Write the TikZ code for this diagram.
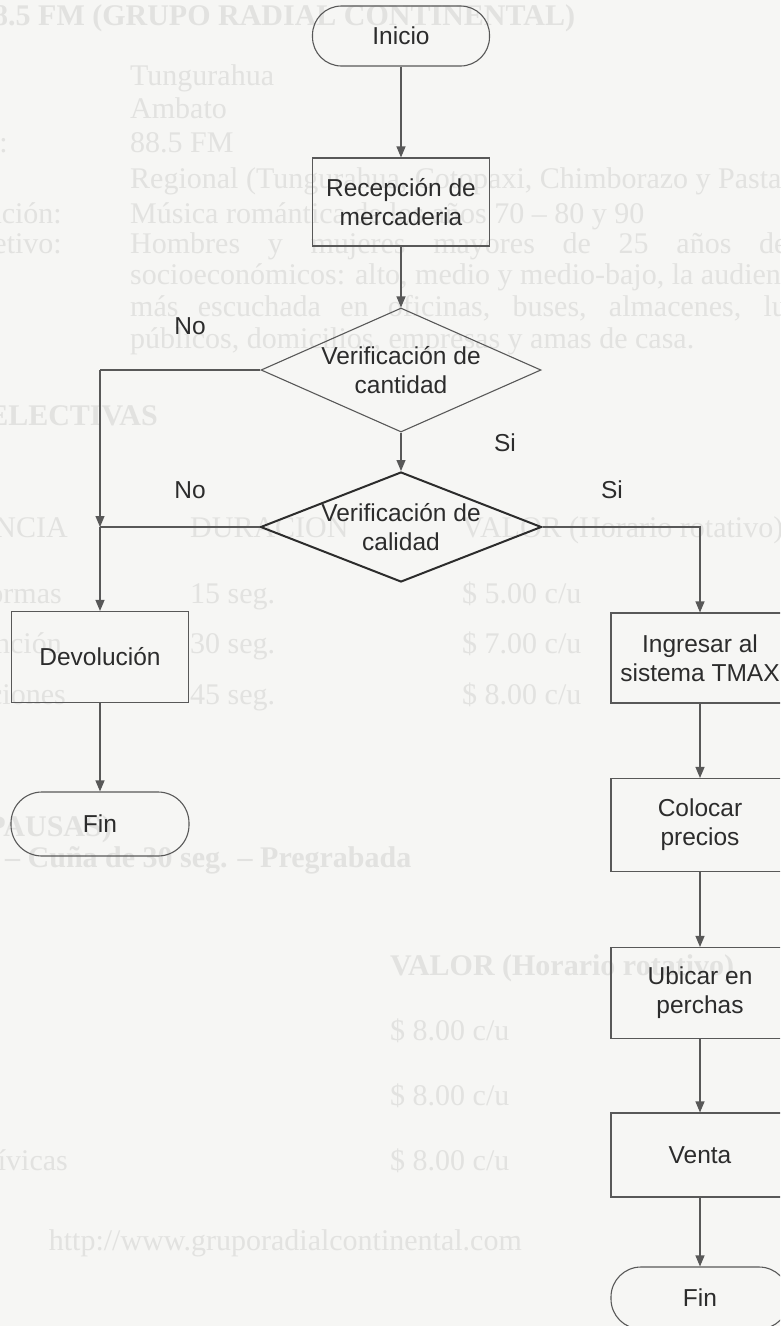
\documentclass[tikz,border=0pt]{standalone}
\usepackage{fontspec}
\setmainfont{Liberation Sans}
\newfontfamily\serifbg{Liberation Serif}
\usetikzlibrary{shapes.geometric,arrows.meta}
\definecolor{paper}{HTML}{F6F6F4}
\definecolor{ghost}{HTML}{E2E2E0}
\definecolor{ink}{HTML}{2C2C2C}
\definecolor{wire}{HTML}{585858}
\tikzset{
  term/.style={draw=wire, line width=1.1pt, rounded corners=29pt,
    minimum width=177pt, minimum height=60pt, text=ink},
  procbox/.style={draw=wire, line width=1.1pt, minimum width=177pt,
    align=center, text=ink, inner sep=0pt},
  decision/.style={draw=wire, diamond, inner sep=0pt, line width=1.1pt},
  dectext/.style={text=ink, align=center, inner sep=0pt},
  flow/.style={draw=wire, line width=1.1pt, -{Triangle[width=9pt,length=11pt]}},
  link/.style={draw=wire, line width=1.1pt},
  answer/.style={text=ink},
  ghostw/.style={text=ghost, inner sep=0pt, anchor=base west,
    font=\serifbg\fontsize{30}{34}\selectfont},
  ghoste/.style={ghostw, anchor=base east},
  ghostbw/.style={ghostw, font=\serifbg\bfseries\fontsize{30}{34}\selectfont},
  ghostbe/.style={ghostbw, anchor=base east}
}
\begin{document}
\begin{tikzpicture}[x=1pt, y=-1pt, font=\fontsize{24.5}{29}\selectfont]
\fill[paper] (0,0) rectangle (780,1326);
\useasboundingbox (0,0) rectangle (780,1326);
\clip (0,0) rectangle (780,1326);

% faint print from the facing page
\node[ghostbw] (h0) at (-22,25) {88.5 FM (GRUPO RADIAL CONTINENTAL)};
\node[ghostw] (h1) at (130,85) {Tungurahua};
\node[ghostw] (h2) at (130,118) {Ambato};
\node[ghoste] (h3a) at (8,152) {Frecuencia:};
\node[ghostw] (h3) at (130,152) {88.5 FM};
\node[ghostw] (h4) at (130,188) {Regional (Tungurahua, Cotopaxi, Chimborazo y Pastaza)};
\node[ghoste] (h5a) at (62,223) {Programación:};
\node[ghostw] (h5) at (130,223) {Música romántica de los años 70 – 80 y 90};
\node[ghoste] (h6a) at (62,253) {Objetivo:};
\node[ghostw] (h6) at (130,253) {\makebox[720pt][s]{Hombres y mujeres mayores de 25 años de los}};
\node[ghostw] (h7) at (130,284) {socioeconómicos: alto, medio y medio-bajo, la audiencia};
\node[ghostw] (h8) at (130,316) {\makebox[720pt][s]{más escuchada en oficinas, buses, almacenes, lugares}};
\node[ghostw] (h9) at (130,348) {públicos, domicilios, empresas y amas de casa.};
\node[ghostbe] (h10) at (158,425) {SELECTIVAS};
\node[ghoste] (t0a) at (68,537) {FRECUENCIA};
\node[ghostw] (t0b) at (190,537) {DURACION};
\node[ghostw] (t0c) at (462,537) {VALOR (Horario rotativo)};
\node[ghoste] (t1a) at (62,603) {Normas};
\node[ghostw] (t1b) at (190,603) {15 seg.};
\node[ghostw] (t1c) at (462,603) {\$ 5.00 c/u};
\node[ghoste] (t2a) at (62,653) {Mención};
\node[ghostw] (t2b) at (190,653) {30 seg.};
\node[ghostw] (t2c) at (462,653) {\$ 7.00 c/u};
\node[ghoste] (t3a) at (66,704) {Menciones};
\node[ghostw] (t3b) at (190,704) {45 seg.};
\node[ghostw] (t3c) at (462,704) {\$ 8.00 c/u};
\node[ghostbe] (p0) at (112,836) {(PAUSAS)};
\node[ghostbw] (p1) at (5,867) {– Cuña de 30 seg. – Pregrabada};
\node[ghostbw] (p2) at (390,975) {VALOR (Horario rotativo)};
\node[ghostw] (p3) at (390,1040) {\$ 8.00 c/u};
\node[ghostw] (p4) at (390,1105) {\$ 8.00 c/u};
\node[ghoste] (p5a) at (68,1170) {Cívicas};
\node[ghostw] (p5) at (390,1170) {\$ 8.00 c/u};
\node[ghoste] (p6) at (522,1250) {http://www.gruporadialcontinental.com};

% flowchart
\node[term] (inicio) at (401,36) {Inicio};
\node[procbox, minimum height=88pt] (recep) at (401,202) {Recepción de\\mercaderia};
\node[decision, minimum width=280pt, minimum height=124pt] (cant) at (401,370) {};
\node[dectext] (cantT) at (cant.center) {Verificación de\\cantidad};
\node[decision, draw=ink, line width=2pt, minimum width=281pt, minimum height=110pt] (calid) at (401,527) {};
\node[dectext] (calidT) at (calid.center) {Verificación de\\calidad};

\node[procbox, minimum height=91pt] (devol) at (100,657) {Devolución};
\node[term, minimum width=178pt, minimum height=64pt, rounded corners=31pt] (fin1) at (100,824) {Fin};

\node[procbox, minimum width=178pt, minimum height=90pt] (ingr) at (700,658) {Ingresar al\\sistema TMAX};
\node[procbox, minimum width=178pt, minimum height=93pt] (coloc) at (700,825) {Colocar\\precios};
\node[procbox, minimum width=178pt, minimum height=91pt] (ubic) at (700,993) {Ubicar en\\perchas};
\node[procbox, minimum width=178pt, minimum height=84pt] (venta) at (700,1155) {Venta};
\node[term, minimum width=178pt, minimum height=62pt, rounded corners=30pt] (fin2) at (700,1298) {Fin};

\node[answer] (no1) at (190,326) {No};
\node[answer] (si1) at (505,443) {Si};
\node[answer] (no2) at (190,490) {No};
\node[answer] (si2) at (612,490) {Si};

\coordinate (j1) at (100,370);
\coordinate (j2) at (100,527);

\draw[flow] (inicio) -- (recep);
\draw[flow] (recep) -- (cant);
\draw[flow] (cant) -- (calid);
\draw[link] (cant.west) -- (j1);
\draw[flow] (j1) -- (j2);
\draw[link] (calid.west) -- (j2);
\draw[flow] (j2) -- (devol);
\draw[flow] (devol) -- (fin1);
\draw[flow] (calid.east) -| (ingr.north);
\draw[flow] (ingr) -- (coloc);
\draw[flow] (coloc) -- (ubic);
\draw[flow] (ubic) -- (venta);
\draw[flow] (venta) -- (fin2);
\end{tikzpicture}
\end{document}
